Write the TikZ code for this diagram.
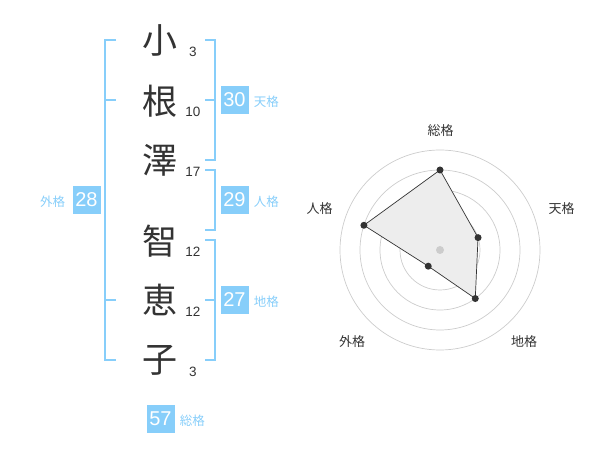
\documentclass[tikz,border=0pt]{standalone}
\usepackage{fontspec}
\usetikzlibrary{positioning,calc}
\setmainfont{Liberation Sans}
\newfontfamily\jpfont{Noto Sans CJK JP}
\definecolor{sky}{HTML}{87CEFA}
\definecolor{ink}{HTML}{333333}

\begin{document}
\begin{tikzpicture}[
  x=1pt,y=-1pt,
  kanji/.style={inner sep=0pt,text=ink,font=\jpfont\fontsize{35}{35}\selectfont},
  strokes/.style={inner sep=0pt,text=ink,font=\fontsize{13.5}{13.5}\selectfont},
  scorebox/.style={fill=sky,text=white,inner sep=0pt,minimum size=28pt,font=\fontsize{20}{20}\selectfont},
  kaku/.style={inner sep=0pt,text=sky,yshift=-2pt,font=\jpfont\fontsize{12.5}{12.5}\selectfont},
  bracket/.style={draw=sky,line width=1.5pt},
  ring/.style={draw=black!20,line width=0.7pt},
  axislabel/.style={inner sep=0pt,text=ink,font=\jpfont\fontsize{13}{13}\selectfont},
  vertex/.style={circle,fill=ink,inner sep=0pt,minimum size=7pt},
  ]
  \useasboundingbox (0,0) rectangle (600,470);
  \node[kanji](k1) at (160,40){小};
  \node[kanji](k2) at (160,101){根};
  \node[kanji](k3) at (160,160){澤};
  \node[kanji](k4) at (160,241){智};
  \node[kanji](k5) at (160,300){恵};
  \node[kanji](k6) at (160,360){子};
  \node[strokes](s1) at (193,52){3};
  \node[strokes](s2) at (193,112){10};
  \node[strokes](s3) at (193,172){17};
  \node[strokes](s4) at (193,252){12};
  \node[strokes](s5) at (193,312){12};
  \node[strokes](s6) at (193,372){3};
  \path[bracket]
  (116,40) -- (105,40) -- (105,360) -- (116,360)
  (105,100) -- (116,100) (105,300) -- (116,300)
  (205,40) -- (215,40) -- (215,160) -- (205,160) (205,100) -- (215,100)
  (205,170) -- (215,170) -- (215,230) -- (205,230)
  (205,240) -- (215,240) -- (215,360) -- (205,360) (205,300) -- (215,300);
  \node[scorebox](gai) at (86.5,200){28};
  \node[scorebox](ten) at (234.5,100){30};
  \node[scorebox](jin) at (234.5,200){29};
  \node[scorebox](chi) at (234.5,300){27};
  \node[scorebox](sou) at (160.5,419){57};
  \node[kaku,left=7pt of gai](gai-l){外格};
  \node[kaku,right=5pt of ten](ten-l){天格};
  \node[kaku,right=5pt of jin](jin-l){人格};
  \node[kaku,right=5pt of chi](chi-l){地格};
  \node[kaku,right=5pt of sou](sou-l){総格};
  \coordinate (o) at (440,250);
  \foreach \r in {20,40,60,80,100} \draw[ring] (o) circle (\r);
  \coordinate (p-sou) at ($(o)+(-90:80)$);
  \coordinate (p-ten) at ($(o)+(-18:40)$);
  \coordinate (p-chi) at ($(o)+(54:60)$);
  \coordinate (p-gai) at ($(o)+(126:20)$);
  \coordinate (p-jin) at ($(o)+(-162:80)$);
  \filldraw[fill=black!7,draw=ink,line width=0.7pt]
  (p-sou) -- (p-ten) -- (p-chi) -- (p-gai) -- (p-jin) -- cycle;
  \foreach \p in {sou,ten,chi,gai,jin} \node[vertex](v-\p) at (p-\p){};
  \node[circle,fill=black!20,inner sep=0pt,minimum size=8pt](c) at (o){};
  \node[axislabel](a-sou) at (440.5,130.5){総格};
  \node[axislabel](a-ten) at (561.5,208.5){天格};
  \node[axislabel](a-chi) at (524,341.5){地格};
  \node[axislabel](a-gai) at (352,342){外格};
  \node[axislabel](a-jin) at (319.5,208.5){人格};
\end{tikzpicture}
\end{document}
